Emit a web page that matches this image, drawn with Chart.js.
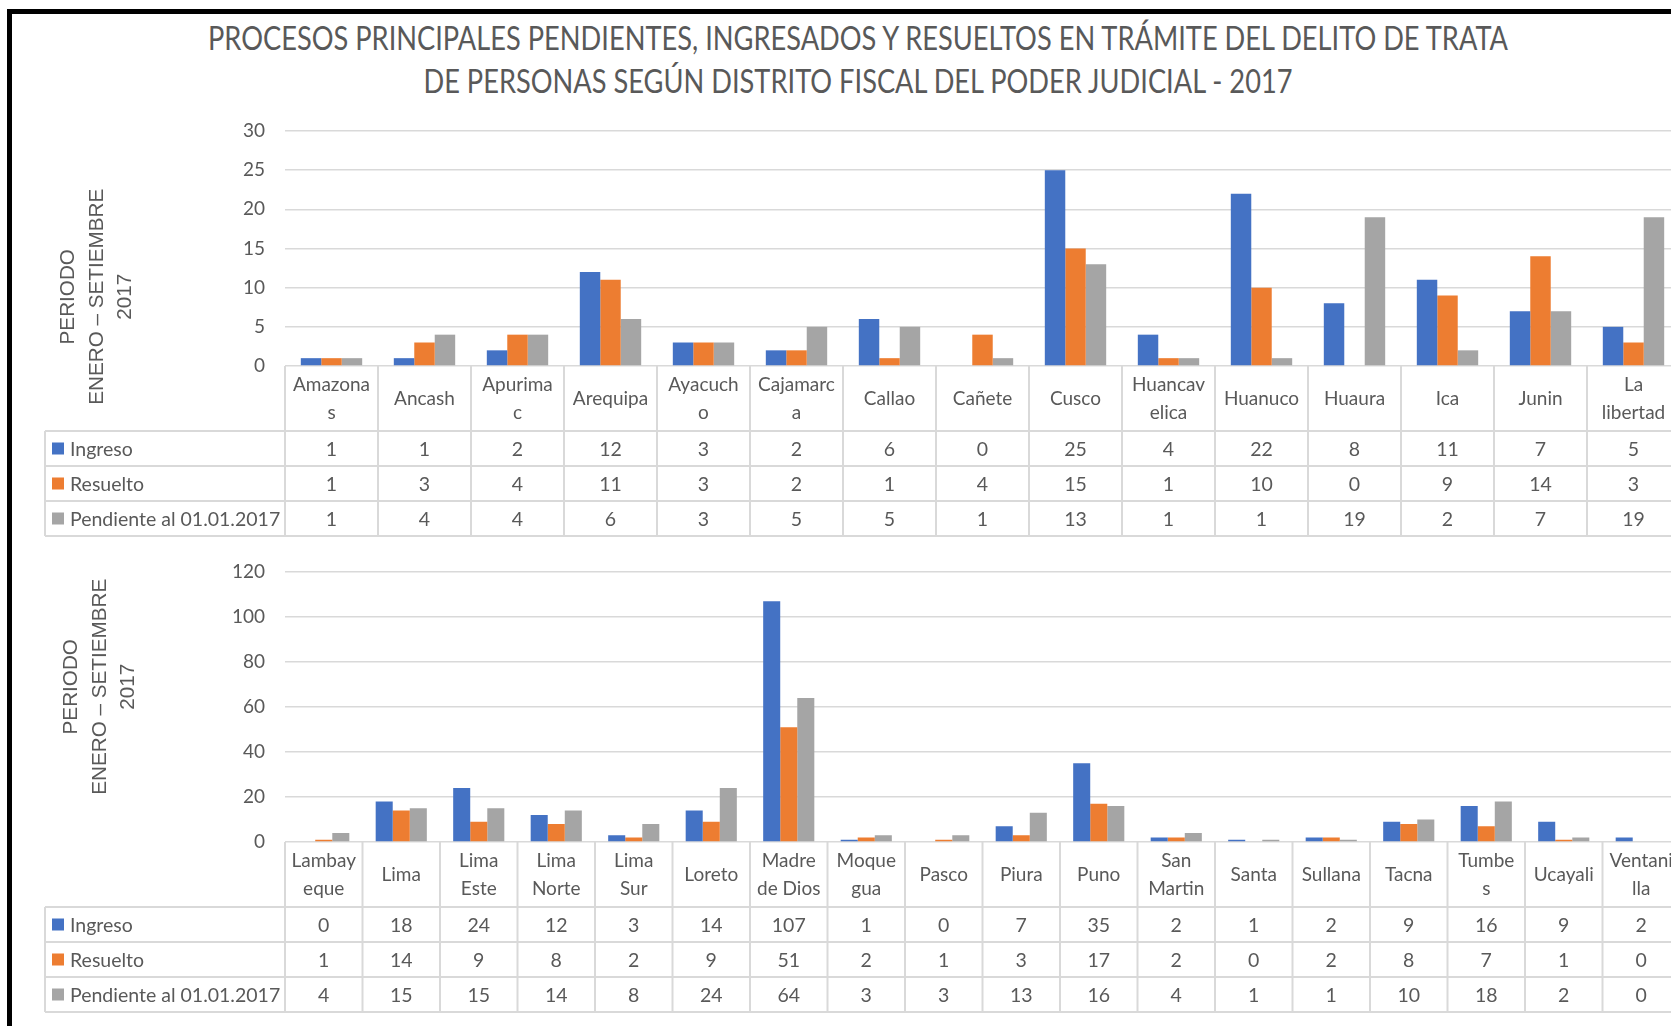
<!DOCTYPE html>
<html>
<head>
<meta charset="utf-8">
<script src="https://cdn.jsdelivr.net/npm/chart.js@4.4.1/dist/chart.umd.min.js"></script>
<style>
    html, body { margin: 0; padding: 0; overflow: hidden; background: #fff; width: 1671px; height: 1026px; }
    #frame { position: absolute; left: 7px; top: 9px; width: 2000px; height: 2000px; border: 5px solid #000; box-sizing: border-box; }
    #title { position: absolute; left: 0; top: 16px; width: 1716px; text-align: center; color: #595959;
             font-family: Lato, sans-serif; font-size: 32px; line-height: 43px; white-space: nowrap; }
    #title div { transform-origin: 50% 50%; }
    .ytitle { position: absolute; width: 300px; text-align: center; color: #595959; font-family: "Liberation Sans", Arial, sans-serif;
              font-size: 20.7px; line-height: 28.5px; transform: rotate(-90deg); transform-origin: 50% 50%; }
    canvas { position: absolute; left: 0; }
    #chart1 { top: 1px; }
    #chart2 { top: 517px; }
</style>
</head>
<body>
<div id="frame"></div>
<div id="title">
    <div><span id="titleLine1">PROCESOS PRINCIPALES PENDIENTES, INGRESADOS Y RESUELTOS EN TRÁMITE DEL DELITO DE TRATA</span></div>
    <div><span>DE PERSONAS SEGÚN DISTRITO FISCAL DEL PODER JUDICIAL - 2017</span></div>
</div>
<canvas id="chart1" width="1700" height="545"></canvas>
<canvas id="chart2" width="1700" height="511"></canvas>
<div class="ytitle" style="left: -54px; top: 254px;">PERIODO<br>ENERO – SETIEMBRE<br>2017</div>
<div class="ytitle" style="left: -51px; top: 644px;">PERIODO<br>ENERO – SETIEMBRE<br>2017</div>
<script>
const series_names = ['Ingreso', 'Resuelto', 'Pendiente al 01.01.2017'];
const series_colors = ['#4472C4', '#ED7D31', '#A5A5A5'];

// primer grafico
const districts_1 = [
    ['Amazona', 's'], 'Ancash', ['Apurima', 'c'], 'Arequipa', ['Ayacuch', 'o'], ['Cajamarc', 'a'], 'Callao', 'Cañete',
    'Cusco', ['Huancav', 'elica'], 'Huanuco', 'Huaura', 'Ica', 'Junin', ['La', 'libertad']
];
const ingreso_1 = [1, 1, 2, 12, 3, 2, 6, 0, 25, 4, 22, 8, 11, 7, 5];
const resuelto_1 = [1, 3, 4, 11, 3, 2, 1, 4, 15, 1, 10, 0, 9, 14, 3];
const pendiente_1 = [1, 4, 4, 6, 3, 5, 5, 1, 13, 1, 1, 19, 2, 7, 19];
const y_ticks_1 = [0, 5, 10, 15, 20, 25, 30];

// segundo grafico
const districts_2 = [
    ['Lambay', 'eque'], 'Lima', ['Lima', 'Este'], ['Lima', 'Norte'], ['Lima', 'Sur'], 'Loreto', ['Madre', 'de Dios'],
    ['Moque', 'gua'], 'Pasco', 'Piura', 'Puno', ['San', 'Martin'], 'Santa', 'Sullana', 'Tacna', ['Tumbe', 's'],
    'Ucayali', ['Ventani', 'lla']
];
const ingreso_2 = [0, 18, 24, 12, 3, 14, 107, 1, 0, 7, 35, 2, 1, 2, 9, 16, 9, 2];
const resuelto_2 = [1, 14, 9, 8, 2, 9, 51, 2, 1, 3, 17, 2, 0, 2, 8, 7, 1, 0];
const pendiente_2 = [4, 15, 15, 14, 8, 24, 64, 3, 3, 13, 16, 4, 1, 1, 10, 18, 2, 0];
const y_ticks_2 = [0, 20, 40, 60, 80, 100, 120];

const text_color = '#595959';
const line_color = '#d9d9d9';
const row_height = 35;

// tabla de datos debajo del eje x
const dataTable = {
    id: 'dataTable',
    afterDraw(chart) {
        const ctx = chart.ctx;
        const x = chart.scales.x;
        const area = chart.chartArea;
        const n = chart.data.labels.length;
        const top = x.bottom;
        const tableLeft = 45;
        const tableBottom = top + row_height * 3;

        let bounds = [area.left];
        for (let i = 0; i < n - 1; i++) {
            bounds.push((x.getPixelForValue(i) + x.getPixelForValue(i + 1)) / 2);
        }
        bounds.push(area.right);

        ctx.save();
        ctx.strokeStyle = line_color;
        ctx.lineWidth = 2;
        ctx.beginPath();
        for (let b of bounds) {
            ctx.moveTo(b, x.top);
            ctx.lineTo(b, tableBottom);
        }
        ctx.moveTo(tableLeft, top);
        ctx.lineTo(tableLeft, tableBottom);
        for (let r = 0; r <= 3; r++) {
            ctx.moveTo(tableLeft, top + r * row_height);
            ctx.lineTo(area.right + 40, top + r * row_height);
        }
        ctx.stroke();

        ctx.font = '19.5px Lato';
        ctx.textBaseline = 'middle';
        chart.data.datasets.forEach((ds, r) => {
            const cy = top + row_height * (r + 0.5);
            ctx.fillStyle = ds.backgroundColor;
            ctx.fillRect(52, cy - 6, 12, 12);
            ctx.fillStyle = text_color;
            ctx.textAlign = 'left';
            ctx.fillText(ds.label, 70, cy + 1);
            ctx.textAlign = 'center';
            ds.data.forEach((v, i) => {
                ctx.fillText(String(v), x.getPixelForValue(i), cy + 1);
            });
        });
        ctx.restore();
    }
};

function makeChart(canvasId, labels, series, yTicks, padTop, padBottom) {
    const ctx = document.getElementById(canvasId).getContext('2d');

    return new Chart(ctx, {
        type: 'bar',
        data: {
            labels: labels,
            datasets: series.map((data, i) => ({
                label: series_names[i],
                data: data,
                backgroundColor: series_colors[i],
                borderWidth: 0,
                barPercentage: 1.0,
                categoryPercentage: 0.66
            }))
        },
        options: {
            responsive: false,
            animation: false,
            layout: {
                padding: {left: 45, right: 20, top: padTop, bottom: padBottom}
            },
            plugins: {
                legend: {display: false},
                tooltip: {enabled: false},
                title: {display: false}
            },
            scales: {
                x: {
                    grid: {display: false},
                    border: {display: false},
                    ticks: {
                        color: text_color,
                        font: {family: 'Lato', size: 19, lineHeight: 1.45},
                        autoSkip: false,
                        maxRotation: 0,
                        minRotation: 0,
                        crossAlign: 'center',
                        padding: 11
                    },
                    afterFit: (scale) => { scale.height = 65; }
                },
                y: {
                    min: yTicks[0],
                    max: yTicks[yTicks.length - 1],
                    afterBuildTicks: (scale) => { scale.ticks = yTicks.map(v => ({value: v})); },
                    grid: {color: line_color, lineWidth: 1.5, drawTicks: false},
                    border: {display: false},
                    ticks: {
                        color: text_color,
                        font: {family: 'Lato', size: 19},
                        padding: 20
                    },
                    afterFit: (scale) => { scale.width = 240; }
                }
            }
        },
        plugins: [dataTable]
    });
}

makeChart('chart1', districts_1, [ingreso_1, resuelto_1, pendiente_1], y_ticks_1, 130, 115);
makeChart('chart2', districts_2, [ingreso_2, resuelto_2, pendiente_2], y_ticks_2, 55, 121);

// titulo comprimido horizontalmente
const line1 = document.getElementById('titleLine1');
const sx = 1300 / line1.getBoundingClientRect().width;
document.querySelectorAll('#title div').forEach(d => { d.style.transform = 'scaleX(' + sx + ')'; });
</script>
</body>
</html>
